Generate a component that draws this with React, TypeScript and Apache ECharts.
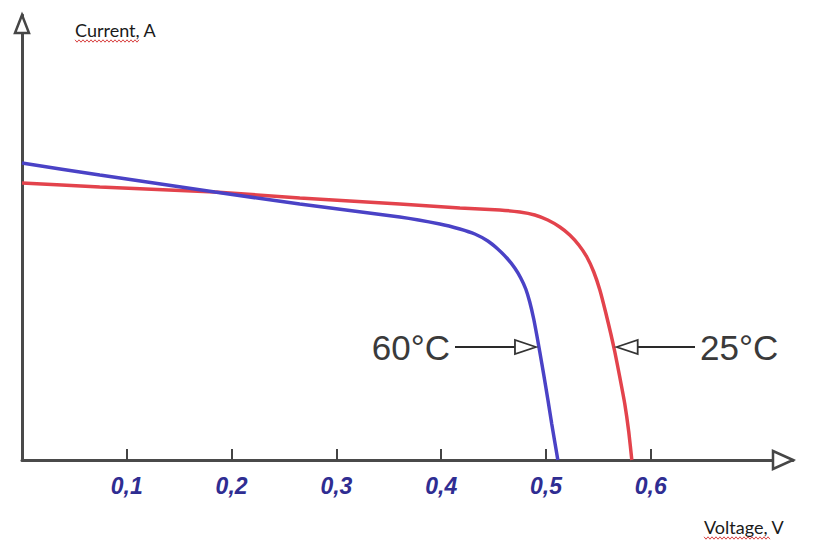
import React, { useEffect, useRef } from "react";
import * as echarts from "echarts";

// 25 °C curve (red)
const voltage25 = [0, 0.0742, 0.184, 0.265, 0.3605, 0.4178, 0.4559, 0.475, 0.4893, 0.5017, 0.5132, 0.5227, 0.5313, 0.539, 0.5456, 0.5514, 0.5571, 0.5619, 0.5657, 0.5704, 0.5752, 0.579, 0.5819];
const current25 = [2.77, 2.73, 2.68, 2.62, 2.56, 2.52, 2.5, 2.48, 2.45, 2.4, 2.33, 2.25, 2.15, 2.03, 1.88, 1.7, 1.47, 1.26, 1.08, 0.83, 0.56, 0.28, 0];
// 60 °C curve (blue)
const voltage60 = [0, 0.0742, 0.184, 0.265, 0.3605, 0.3987, 0.4178, 0.4321, 0.4445, 0.454, 0.4626, 0.4702, 0.4759, 0.4807, 0.4845, 0.4883, 0.4912, 0.4941, 0.4979, 0.5017, 0.5055, 0.5084, 0.5113];
const current60 = [2.97, 2.85, 2.68, 2.56, 2.43, 2.36, 2.31, 2.26, 2.19, 2.11, 2.02, 1.92, 1.82, 1.71, 1.58, 1.41, 1.25, 1.08, 0.85, 0.61, 0.36, 0.18, 0];
// x-axis tick values
const xTicks = [0.1, 0.2, 0.3, 0.4, 0.5, 0.6];
// annotation anchor points on each curve [voltage, current]
const note60: [number, number] = [0.4933, 1.13];
const note25: [number, number] = [0.5646, 1.13];

const X_MAX = 0.7357;
const Y_MAX = 4.45;

export default function App() {
  const ref = useRef<HTMLDivElement>(null);
  useEffect(() => {
    if (!ref.current) return;
    const chart = echarts.init(ref.current, null, { renderer: "svg" });
    const red = voltage25.map((v, i) => [v, current25[i]]);
    const blue = voltage60.map((v, i) => [v, current60[i]]);
    chart.setOption({
      animation: false,
      backgroundColor: "#ffffff",
      grid: { left: 22, top: 15, right: 21, bottom: 85, outerBoundsMode: "none", containLabel: false },
      xAxis: {
        type: "value",
        min: 0,
        max: X_MAX,
        axisLine: { show: true, lineStyle: { color: "#4a4a4a", width: 3 } },
        axisTick: { show: true, inside: true, length: 11, customValues: xTicks, lineStyle: { color: "#444", width: 2 } },
        axisLabel: {
          show: true,
          customValues: xTicks,
          formatter: (v: number) => v.toFixed(1).replace(".", ","),
          fontSize: 23,
          fontWeight: "bold",
          fontStyle: "italic",
          fontFamily: "Liberation Sans",
          color: "#2f2d92",
          margin: 14,
        },
        splitLine: { show: false },
      },
      yAxis: {
        type: "value",
        min: 0,
        max: Y_MAX,
        axisLine: { show: true, onZero: false, lineStyle: { color: "#4a4a4a", width: 3 } },
        axisTick: { show: false },
        axisLabel: { show: false },
        splitLine: { show: false },
      },
      series: [
        {
          type: "line",
          data: red,
          showSymbol: false,
          smooth: 0.15,
          lineStyle: { color: "#e3434c", width: 3.5 },
          z: 2,
        },
        {
          type: "line",
          data: blue,
          showSymbol: false,
          smooth: 0.15,
          lineStyle: { color: "#4a42c6", width: 3.5 },
          z: 3,
        },
      ],
    });

    const p0 = chart.convertToPixel({ gridIndex: 0 }, [0, 0]) as number[];
    const pTop = chart.convertToPixel({ gridIndex: 0 }, [0, Y_MAX]) as number[];
    const pRight = chart.convertToPixel({ gridIndex: 0 }, [X_MAX, 0]) as number[];
    const t60 = chart.convertToPixel({ gridIndex: 0 }, note60) as number[];
    const t25 = chart.convertToPixel({ gridIndex: 0 }, note25) as number[];

    const zig = (x0: number, x1: number, y: number) => {
      const pts: number[][] = [];
      let k = 0;
      for (let x = x0; x <= x1; x += 2) {
        pts.push([x, y + (k % 2 === 0 ? -1.2 : 1.2)]);
        k++;
      }
      return pts;
    };

    const ax = "#464646";
    const tip60x = t60[0] - 3;
    const tip25x = t25[0] + 3;
    const ay = t60[1];

    chart.setOption({
      graphic: [
        {
          type: "polygon",
          shape: { points: [[p0[0], pTop[1]], [p0[0] - 7, pTop[1] + 18], [p0[0] + 7, pTop[1] + 18]] },
          style: { fill: "#fff", stroke: ax, lineWidth: 2.5 },
          z: 100,
        },
        {
          type: "polygon",
          shape: { points: [[pRight[0], p0[1]], [pRight[0] - 20, p0[1] - 9], [pRight[0] - 20, p0[1] + 9]] },
          style: { fill: "#fff", stroke: ax, lineWidth: 2.5 },
          z: 100,
        },
        {
          type: "text",
          x: 75,
          y: 30,
          style: { text: "Current, A", font: "18px Lato", fill: "#1a1a1a", verticalAlign: "middle", align: "left" },
          z: 100,
        },
        { type: "polyline", shape: { points: zig(75, 140, 41) }, style: { stroke: "#d94444", lineWidth: 1, fill: null }, z: 100 },
        {
          type: "text",
          x: 704,
          y: 527,
          style: { text: "Voltage, V", font: "18px Lato", fill: "#1a1a1a", verticalAlign: "middle", align: "left" },
          z: 100,
        },
        { type: "polyline", shape: { points: zig(704, 770, 538) }, style: { stroke: "#d94444", lineWidth: 1, fill: null }, z: 100 },
        {
          type: "text",
          x: 450,
          y: ay,
          style: { text: "60°C", font: "35px 'Liberation Sans'", fill: "#3a3a3a", verticalAlign: "middle", align: "right" },
          z: 100,
        },
        { type: "line", shape: { x1: 455, y1: ay, x2: tip60x - 20, y2: ay }, style: { stroke: "#2a2a2a", lineWidth: 2 }, z: 100 },
        {
          type: "polygon",
          shape: { points: [[tip60x, ay], [tip60x - 21, ay - 7], [tip60x - 21, ay + 7]] },
          style: { fill: "#fff", stroke: "#333", lineWidth: 1.8 },
          z: 100,
        },
        {
          type: "text",
          x: 700,
          y: ay,
          style: { text: "25°C", font: "35px 'Liberation Sans'", fill: "#3a3a3a", verticalAlign: "middle", align: "left" },
          z: 100,
        },
        { type: "line", shape: { x1: tip25x + 20, y1: ay, x2: 695, y2: ay }, style: { stroke: "#2a2a2a", lineWidth: 2 }, z: 100 },
        {
          type: "polygon",
          shape: { points: [[tip25x, ay], [tip25x + 21, ay - 7], [tip25x + 21, ay + 7]] },
          style: { fill: "#fff", stroke: "#333", lineWidth: 1.8 },
          z: 100,
        },
      ],
    });

    return () => chart.dispose();
  }, []);
  return <div ref={ref} style={{ position: "absolute", left: 0, top: 0, width: 814, height: 545 }} />;
}
